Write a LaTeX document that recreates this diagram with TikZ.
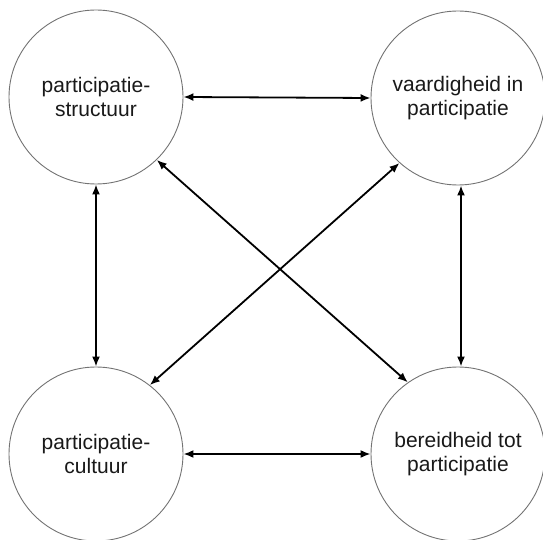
\documentclass[tikz,border=0pt]{standalone}
\usepackage{fontspec}
\setmainfont{Liberation Sans}
\usetikzlibrary{arrows.meta}
\begin{document}
\begin{tikzpicture}[x=1pt,y=1pt,
  concept/.style={circle, draw=black!55, line width=0.9pt, minimum size=174pt, inner sep=0pt,
    align=center, font=\fontsize{21}{24}\selectfont, text=black!90},
  link/.style={line width=1.8pt, {Latex[length=10pt,width=8pt]}-{Latex[length=10pt,width=8pt]}}]
\useasboundingbox (0,0) rectangle (543,539);
\node[concept] (ps) at (96,442) {participatie-\\structuur};
\node[concept] (vp) at (458,441) {vaardigheid in\\participatie};
\node[concept] (pc) at (96,85) {participatie-\\cultuur};
\node[concept] (bp) at (458,85) {bereidheid tot\\participatie};
\draw[link] (ps.east) -- (vp.west);
\draw[link] (pc.east) -- (bp.west);
\draw[link] (ps.south) -- (pc.north);
\draw[link] ([xshift=3pt]vp.south) -- ([xshift=3pt]bp.north);
\draw[link] (ps.-46) -- (bp.125);
\draw[link] (vp.228) -- (pc.52);
\end{tikzpicture}
\end{document}
